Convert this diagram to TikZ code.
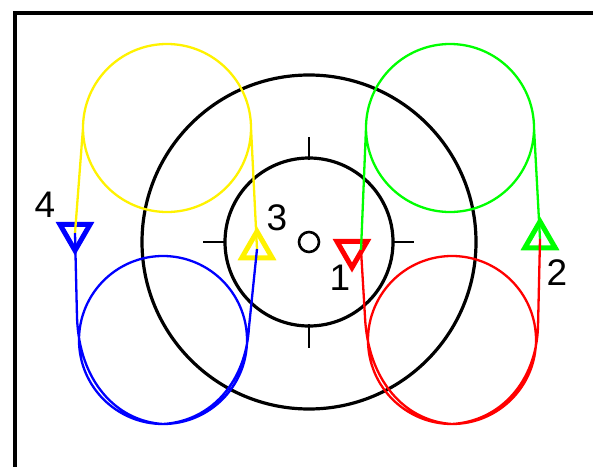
\documentclass[tikz,border=0pt]{standalone}
\usepackage{fontspec}
\setmainfont{Liberation Sans}
\usetikzlibrary{shapes.geometric}
\tikzset{
  ring/.style={draw=black, line width=3.2pt},
  tickline/.style={draw=black, line width=2.6pt},
  upmark/.style={regular polygon, regular polygon sides=3, draw, line width=5pt, minimum size=35pt, inner sep=0pt},
  downmark/.style={upmark, shape border rotate=180},
  looppath/.style={line width=2.3pt},
  numlabel/.style={font=\fontsize{37}{37}\selectfont, inner sep=0pt}
}

\begin{document}
\begin{tikzpicture}[x=1pt, y=1pt]
  \useasboundingbox (0,0) rectangle (593,467);
  \draw[line width=3.4pt] (593,454) -- (15,454) -- (15,0);

  % target
  \coordinate (o) at (309,225);
  \draw[ring] (o) circle[radius=167];
  \draw[ring] (o) circle[radius=84];
  \draw[ring, line width=2.6pt] (o) circle[radius=10];
  \draw[tickline] (309,307) -- (309,330);
  \draw[tickline] (309,143) -- (309,119);
  \draw[tickline] (225,225) -- (203,225);
  \draw[tickline] (393,225) -- (414,225);

  % markers
  \node[downmark, draw=red] (t1) at (352,217) {};
  \node[upmark, draw=green] (t2) at (540,228) {};
  \node[upmark, draw=yellow] (t3) at (257,218) {};
  \node[downmark, draw=blue] (t4) at (75,234) {};
  \coordinate (p1) at ([xshift=9pt]t1.center);

  \node[numlabel] (n1) at (340,189) {1};
  \node[numlabel] (n2) at (557,194) {2};
  \node[numlabel] (n3) at (277,249) {3};
  \node[numlabel] (n4) at (45,262) {4};

  % loops
  \draw[looppath, yellow] (t3.center) -- (251,339)
    arc[start angle=0, end angle=540, radius=84] -- (t4.center);
  \draw[looppath, green] (t2.center) -- (534,339)
    arc[start angle=0, end angle=540, radius=84] -- (p1);
  \draw[looppath, blue] (t4.center) -- (77,150)
    .. controls (79,86) and (116,46) .. (163,43)
    arc[start angle=270, end angle=630, radius=84]
    .. controls (212,46) and (246,86) .. (249,140) -- (t3.center);
  \draw[looppath, red] (p1) -- (365,150)
    .. controls (368,86) and (405,46) .. (452,43)
    arc[start angle=270, end angle=630, radius=84]
    .. controls (501,46) and (536,86) .. (538,140) -- (t2.center);
\end{tikzpicture}
\end{document}
